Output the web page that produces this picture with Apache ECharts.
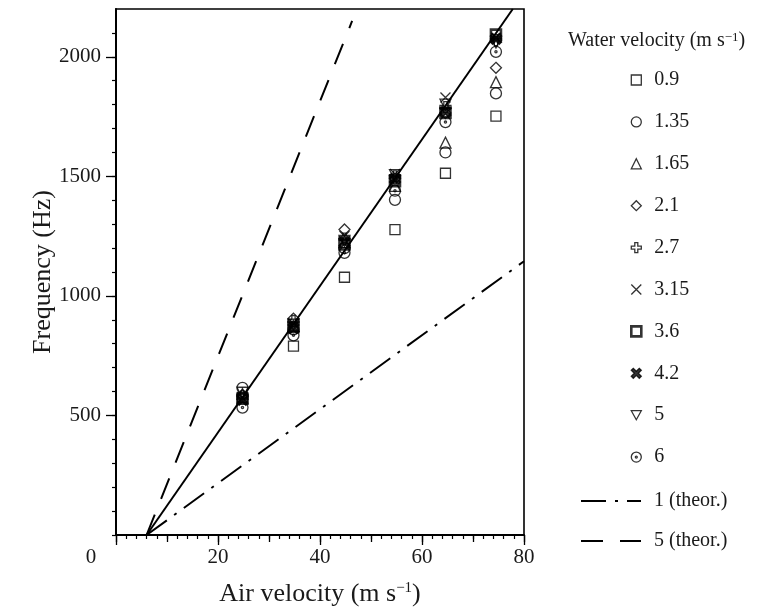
<!DOCTYPE html>
<html>
<head>
<meta charset="utf-8">
<script src="https://cdn.jsdelivr.net/npm/echarts@6/dist/echarts.min.js"></script>
<style>
  html, body { margin: 0; padding: 0; background: #fff; }
  #chart { width: 757px; height: 612px; }
</style>
</head>
<body>
<div id="chart"></div>
<script>
// Air velocity (m/s) at which each frequency set was measured
const airVelocity = [24.8, 34.8, 44.8, 54.7, 64.6, 74.5];

// Water velocity series names (m/s)
const waterVelocityNames = ['0.9', '1.35', '1.65', '2.1', '2.7', '3.15', '3.6', '4.2', '5', '6'];

// Measured frequencies (Hz), one array per water velocity
const freq_0_9  = [575, 790, 1078, 1277, 1513, 1752];
const freq_1_35 = [615, 860, 1200, 1402, 1600, 1847];
const freq_1_65 = [590, 875, 1225, 1460, 1641, 1894];
const freq_2_1  = [585, 905, 1278, 1490, 1765, 1954];
const freq_2_7  = [580, 895, 1240, 1500, 1790, 2070];
const freq_3_15 = [575, 885, 1250, 1510, 1830, 2080];
const freq_3_6  = [570, 870, 1215, 1480, 1765, 2093];
const freq_4_2  = [565, 865, 1225, 1490, 1770, 2075];
const freq_5    = [595, 880, 1230, 1505, 1800, 2060];
const freq_6    = [533, 835, 1180, 1440, 1727, 2021];

// Straight lines: fit through the data and two theoretical predictions
const fitLine    = [[6, 0], [77.8, 2200]];
const theor1Line = [[6, 0], [80, 1145]];
const theor5Line = [[6, 0], [46.3, 2150]];
const theorNames = ['1 (theor.)', '5 (theor.)'];

// Tick values
const xTickLabels = [0, 20, 40, 60, 80];
const yTickLabels = [500, 1000, 1500, 2000];
const yMinorTicks = [0, 100, 200, 300, 400, 500, 600, 700, 800, 900, 1000, 1100, 1200,
                     1300, 1400, 1500, 1600, 1700, 1800, 1900, 2000, 2100];

const FONT = "'Liberation Serif', 'Times New Roman', serif";
const INK = '#1a1a1a';

const symbols = {
  square: 'rect',
  circle: 'circle',
  triangle: 'triangle',
  diamond: 'diamond',
  plus: 'path://M3.5,0H6.5V3.5H10V6.5H6.5V10H3.5V6.5H0V3.5H3.5Z',
  cross: 'path://M0,0L10,10M10,0L0,10',
  boldCross: 'path://M0,2L2,0L5,3L8,0L10,2L7,5L10,8L8,10L5,7L2,10L0,8L3,5Z',
  downTriangle: 'path://M0,0H10L5,9Z',
  dotCircle: 'path://M10,5A5,5,0,1,1,0,5A5,5,0,1,1,10,5ZM6,5A1,1,0,1,1,4,5A1,1,0,1,1,6,5Z'
};

const freqSets = [freq_0_9, freq_1_35, freq_1_65, freq_2_1, freq_2_7,
                  freq_3_15, freq_3_6, freq_4_2, freq_5, freq_6];
const seriesLook = [
  { symbol: symbols.square, size: 10 },
  { symbol: symbols.circle, size: 11 },
  { symbol: symbols.triangle, size: 11 },
  { symbol: symbols.diamond, size: 11 },
  { symbol: symbols.plus, size: 11 },
  { symbol: symbols.cross, size: 10 },
  { symbol: symbols.square, size: 10, border: 2.6 },
  { symbol: symbols.boldCross, size: 11, fill: '#000' },
  { symbol: symbols.downTriangle, size: 11 },
  { symbol: symbols.dotCircle, size: 11 }
];

const scatterSeries = waterVelocityNames.map((name, i) => ({
  name: name,
  type: 'scatter',
  xAxisIndex: 0,
  yAxisIndex: 0,
  symbol: seriesLook[i].symbol,
  symbolSize: seriesLook[i].size,
  itemStyle: {
    color: seriesLook[i].fill || 'rgba(0,0,0,0)',
    borderColor: '#000',
    borderWidth: seriesLook[i].border || 1.3
  },
  data: airVelocity.map((x, j) => [x, freqSets[i][j]])
}));

const lineBase = (name, data, dash) => ({
  name: name,
  type: 'line',
  xAxisIndex: 0,
  yAxisIndex: 0,
  symbol: 'none',
  silent: true,
  lineStyle: { color: '#000', width: 2, type: dash, cap: 'butt' },
  data: data
});

const lineSeries = [
  lineBase('fit', fitLine, 'solid'),
  lineBase(theorNames[0], theor1Line, [25, 9, 3, 9]),
  lineBase(theorNames[1], theor5Line, [22, 17])
];

const sup = { fontFamily: FONT, fontSize: 15, color: INK, verticalAlign: 'top', padding: [0, 0, 9, 0] };

const chart = echarts.init(document.getElementById('chart'), null, { renderer: 'canvas' });
chart.setOption({
  animation: false,
  backgroundColor: '#fff',
  title: {
    text: 'Water velocity (m s{sup|−1})',
    left: 563,
    top: 26,
    textStyle: {
      fontFamily: FONT, fontSize: 20, fontWeight: 'normal', color: INK,
      rich: { sup: { fontFamily: FONT, fontSize: 13, color: INK, verticalAlign: 'top', padding: [0, 0, 7, 0] } }
    }
  },
  legend: [
    {
      orient: 'vertical',
      left: 625,
      top: 65,
      itemWidth: 10,
      itemHeight: 10,
      itemGap: 21.9,
      selectedMode: false,
      textStyle: { fontFamily: FONT, fontSize: 20, lineHeight: 20, color: INK, padding: [0, 0, 0, 8] },
      data: waterVelocityNames.map((n, i) => ({
        name: n,
        itemStyle: { borderWidth: seriesLook[i].border || 1.3, borderColor: '#000' }
      }))
    },
    {
      orient: 'vertical',
      left: 575,
      top: 486,
      itemWidth: 60,
      itemHeight: 12,
      itemGap: 20,
      selectedMode: false,
      textStyle: { fontFamily: FONT, fontSize: 20, lineHeight: 20, color: INK, padding: [0, 0, 0, 8] },
      data: theorNames.map(n => ({ name: n, itemStyle: { opacity: 0 } }))
    }
  ],
  grid: {
    left: 116,
    right: 233,
    top: 9,
    bottom: 75,
    show: true,
    borderColor: '#000',
    borderWidth: 1.6
  },
  xAxis: [
    {
      type: 'value',
      min: 0,
      max: 80,
      interval: 20,
      position: 'bottom',
      name: 'Air velocity (m s{sup|−1})',
      nameLocation: 'middle',
      nameGap: 46,
      nameTextStyle: { fontFamily: FONT, fontSize: 26, color: INK, rich: { sup: sup } },
      axisLine: { show: true, lineStyle: { color: '#000', width: 2 } },
      axisTick: { show: true, inside: false, length: 10, lineStyle: { color: '#000', width: 1.3 } },
      minorTick: { show: true, splitNumber: 10, length: 4, lineStyle: { color: '#000', width: 1.2 } },
      splitLine: { show: false },
      minorSplitLine: { show: false },
      axisLabel: {
        customValues: xTickLabels,
        margin: 12,
        fontFamily: FONT, fontSize: 21, color: INK,
        formatter: v => (v === 0 ? '{o|0}' : String(v)),
        rich: { o: { fontFamily: FONT, fontSize: 21, color: INK, padding: [0, 50, 0, 0] } }
      }
    },
    {
      type: 'value',
      min: 0,
      max: 80,
      interval: 10,
      position: 'bottom',
      axisLine: { show: false },
      axisTick: { show: true, inside: false, length: 7, lineStyle: { color: '#000', width: 1.3 } },
      axisLabel: { show: false },
      splitLine: { show: false }
    }
  ],
  yAxis: [
    {
      type: 'value',
      min: 0,
      max: 2200,
      position: 'left',
      name: 'Frequency (Hz)',
      nameLocation: 'middle',
      nameGap: 60,
      nameMoveOverlap: false,
      nameTextStyle: { fontFamily: FONT, fontSize: 26, color: INK },
      axisLine: { show: true, lineStyle: { color: '#000', width: 2 } },
      axisTick: { show: true, inside: false, length: 10, customValues: yTickLabels, lineStyle: { color: '#000', width: 1.3 } },
      splitLine: { show: false },
      axisLabel: {
        customValues: yTickLabels, margin: 15, fontFamily: FONT, fontSize: 21, color: INK,
        formatter: v => String(v)
      }
    },
    {
      type: 'value',
      min: 0,
      max: 2200,
      position: 'left',
      axisLine: { show: false },
      axisTick: { show: true, inside: false, length: 4, customValues: yMinorTicks, lineStyle: { color: '#000', width: 1.2 } },
      axisLabel: { show: false },
      splitLine: { show: false }
    }
  ],
  series: lineSeries.concat(scatterSeries)
});
</script>
</body>
</html>
